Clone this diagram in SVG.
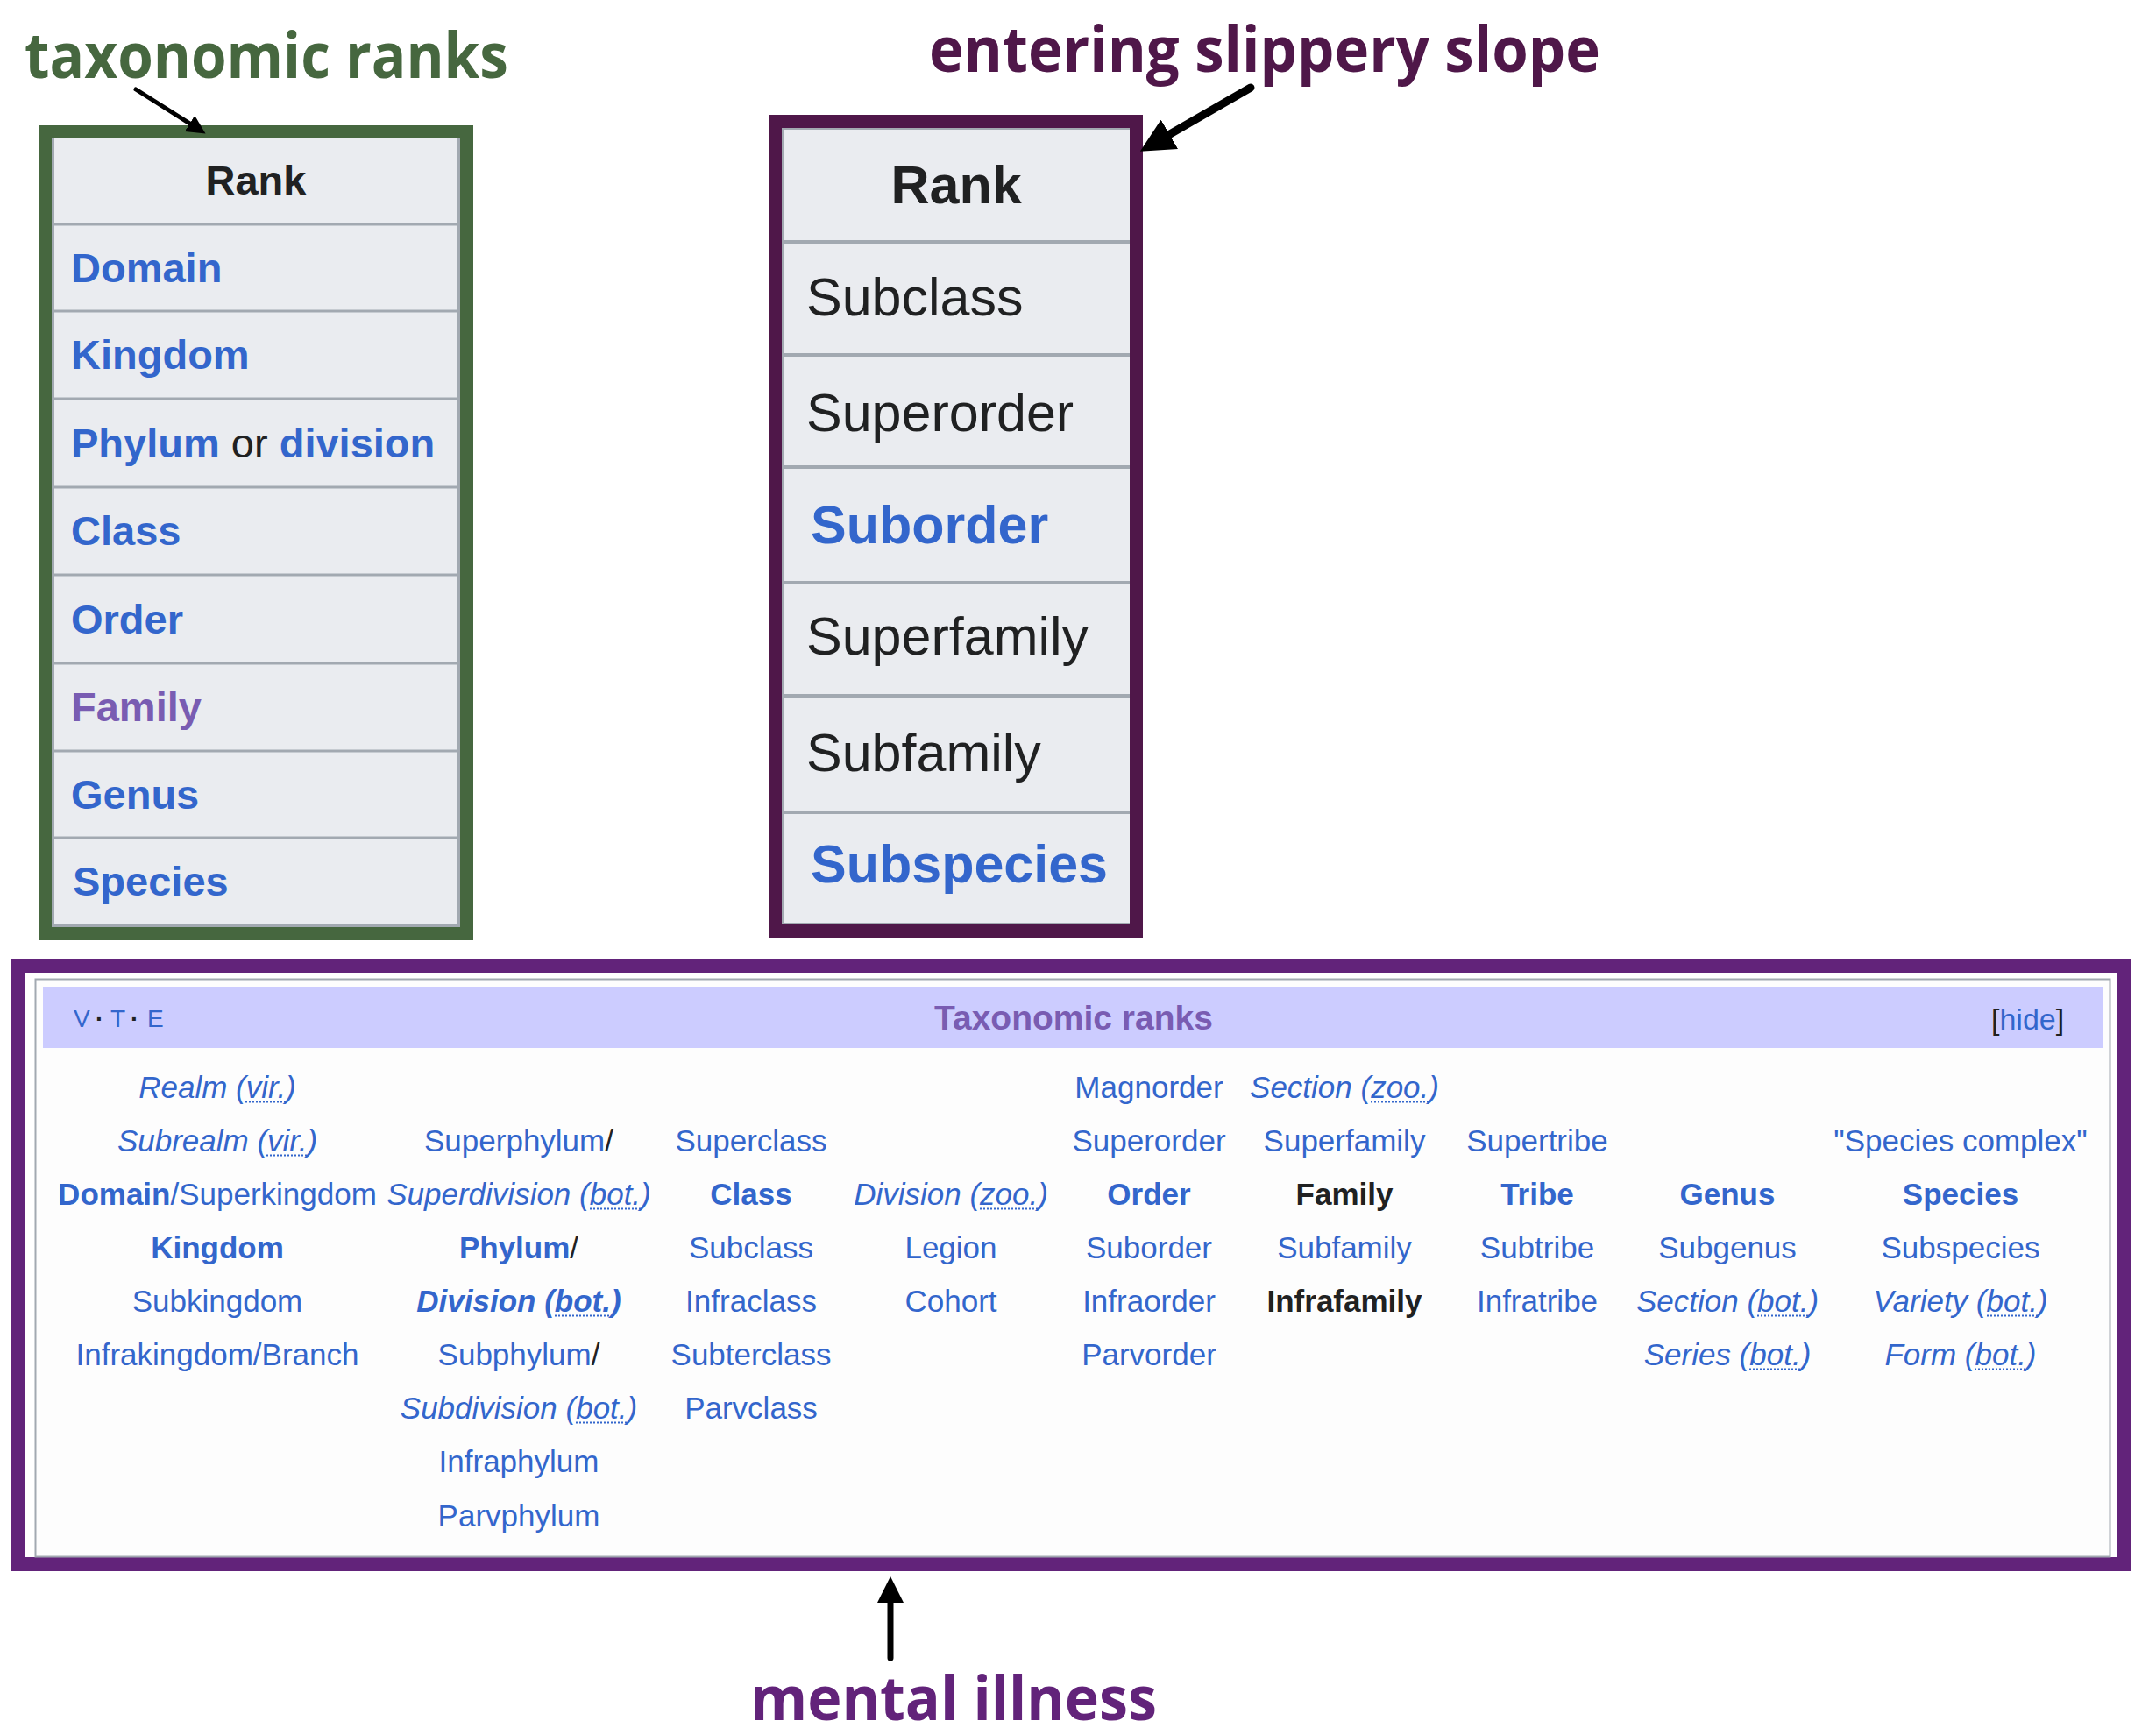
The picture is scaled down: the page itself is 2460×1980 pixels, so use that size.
<svg xmlns="http://www.w3.org/2000/svg" width="2460" height="1980" viewBox="0 0 2460 1980">
<style>
.ann{font-family:"Open Sans","Noto Sans",sans-serif;font-weight:bold}
.t{font-family:"Liberation Sans",Arial,sans-serif}
.tl{font-size:47px;fill:#3366cc;font-weight:bold}
.tm{font-size:61px;fill:#202122}
.nb{font-family:"Liberation Sans",Arial,sans-serif;font-size:35px;fill:#3366cc;text-anchor:middle}
.b{font-weight:bold}
.i{font-style:italic}
.k{fill:#202122}
.v{fill:#795cb2}
.dot{stroke:#3366cc;stroke-width:2;stroke-dasharray:2 2}
.sepL{stroke:#a2a9b1;stroke-width:3}
.sepM{stroke:#a2a9b1;stroke-width:4}
.arr{stroke:#000;fill:none;stroke-linecap:round}
</style>
<defs>
<marker id="head" viewBox="0 0 4 4" refX="2" refY="2" markerWidth="4.3" markerHeight="4.3" orient="auto" markerUnits="strokeWidth">
<path d="M0,0 L4,2 L0,4 z" fill="#000"/>
</marker>
</defs>
<rect width="2460" height="1980" fill="#ffffff"/>

<g id="label-taxonomic-ranks">
<text class="ann" x="28" y="89" font-size="72" fill="#46673f" textLength="552" lengthAdjust="spacingAndGlyphs">taxonomic ranks</text>
</g>
<g id="label-entering">
<text class="ann" x="1060" y="82" font-size="72" fill="#4f1749" textLength="766" lengthAdjust="spacingAndGlyphs">entering slippery slope</text>
</g>
<g id="label-mental">
<text class="ann" x="856" y="1963" font-size="70" fill="#62237a" textLength="464" lengthAdjust="spacingAndGlyphs">mental illness</text>
</g>

<g id="table-taxonomic-ranks">
<rect x="44" y="143" width="496" height="930" fill="#46673f"/>
<rect x="59" y="158" width="466" height="900" fill="#a2a9b1"/>
<rect x="62" y="158" width="460" height="897" fill="#eaecf0"/>
<line class="sepL" x1="62" y1="256" x2="522" y2="256"/>
<line class="sepL" x1="62" y1="355" x2="522" y2="355"/>
<line class="sepL" x1="62" y1="455" x2="522" y2="455"/>
<line class="sepL" x1="62" y1="556" x2="522" y2="556"/>
<line class="sepL" x1="62" y1="656" x2="522" y2="656"/>
<line class="sepL" x1="62" y1="757" x2="522" y2="757"/>
<line class="sepL" x1="62" y1="857" x2="522" y2="857"/>
<line class="sepL" x1="62" y1="956" x2="522" y2="956"/>
<text class="t" x="292" y="222" font-size="47" font-weight="bold" fill="#202122" text-anchor="middle">Rank</text>
<text class="t tl" x="81" y="322">Domain</text>
<text class="t tl" x="81" y="421">Kingdom</text>
<text class="t tl" x="81" y="522">Phylum<tspan class="k" font-weight="normal"> or </tspan>division</text>
<text class="t tl" x="81" y="622">Class</text>
<text class="t tl" x="81" y="723">Order</text>
<text class="t tl v" x="81" y="823">Family</text>
<text class="t tl" x="81" y="923">Genus</text>
<text class="t tl" x="83" y="1022">Species</text>
</g>

<g id="table-slippery-slope">
<rect x="877" y="131" width="427" height="939" fill="#4f1749"/>
<rect x="892" y="146" width="397" height="909" fill="#a2a9b1"/>
<rect x="894" y="148" width="395" height="905" fill="#eaecf0"/>
<line x1="894" y1="276.5" x2="1289" y2="276.5" stroke="#a2a9b1" stroke-width="5"/>
<line class="sepM" x1="894" y1="405" x2="1289" y2="405"/>
<line class="sepM" x1="894" y1="533" x2="1289" y2="533"/>
<line class="sepM" x1="894" y1="665" x2="1289" y2="665"/>
<line class="sepM" x1="894" y1="794" x2="1289" y2="794"/>
<line class="sepM" x1="894" y1="927" x2="1289" y2="927"/>
<text class="t" x="1091" y="232" font-size="61" font-weight="bold" fill="#202122" text-anchor="middle">Rank</text>
<text class="t tm" x="920" y="360">Subclass</text>
<text class="t tm" x="920" y="492">Superorder</text>
<text class="t tm b" x="925" y="620" style="fill:#3366cc">Suborder</text>
<text class="t tm" x="920" y="747">Superfamily</text>
<text class="t tm" x="920" y="880">Subfamily</text>
<text class="t tm b" x="925" y="1007" style="fill:#3366cc">Subspecies</text>
</g>

<g id="navbox-taxonomic-ranks">
<rect x="21" y="1102" width="2403" height="683" fill="none" stroke="#62237a" stroke-width="16"/>
<rect x="29" y="1110" width="2387" height="667" fill="#ffffff"/>
<rect x="40.5" y="1117.5" width="2367" height="659" fill="#fdfdfd" stroke="#a2a9b1" stroke-width="2"/>
<rect x="49" y="1126" width="2350" height="70" fill="#ccccff"/>
<text class="t" y="1172" font-size="28" fill="#3366cc"><tspan x="84">V</tspan><tspan x="109" fill="#202122" font-weight="bold">·</tspan><tspan x="126">T</tspan><tspan x="149" fill="#202122" font-weight="bold">·</tspan><tspan x="168">E</tspan></text>
<text class="t b v" x="1225" y="1175" font-size="39" text-anchor="middle">Taxonomic ranks</text>
<text class="t" x="2272" y="1175" font-size="34" fill="#202122">[<tspan fill="#3366cc">hide</tspan>]</text>

<text class="nb i" x="248" y="1253">Realm (vir.)</text>
<text class="nb" x="1311" y="1253">Magnorder</text>
<text class="nb i" x="1534" y="1253">Section (zoo.)</text>

<text class="nb i" x="248" y="1314">Subrealm (vir.)</text>
<text class="nb" x="592" y="1314">Superphylum<tspan class="k">/</tspan></text>
<text class="nb" x="857" y="1314">Superclass</text>
<text class="nb" x="1311" y="1314">Superorder</text>
<text class="nb" x="1534" y="1314">Superfamily</text>
<text class="nb" x="1754" y="1314">Supertribe</text>
<text class="nb" x="2237" y="1314">"Species complex"</text>

<text class="nb" x="248" y="1375"><tspan class="b">Domain</tspan>/Superkingdom</text>
<text class="nb i" x="592" y="1375">Superdivision (bot.)</text>
<text class="nb b" x="857" y="1375">Class</text>
<text class="nb i" x="1085" y="1375">Division (zoo.)</text>
<text class="nb b" x="1311" y="1375">Order</text>
<text class="nb b k" x="1534" y="1375">Family</text>
<text class="nb b" x="1754" y="1375">Tribe</text>
<text class="nb b" x="1971" y="1375">Genus</text>
<text class="nb b" x="2237" y="1375">Species</text>

<text class="nb b" x="248" y="1436">Kingdom</text>
<text class="nb" x="592" y="1436"><tspan class="b">Phylum</tspan><tspan class="k">/</tspan></text>
<text class="nb" x="857" y="1436">Subclass</text>
<text class="nb" x="1085" y="1436">Legion</text>
<text class="nb" x="1311" y="1436">Suborder</text>
<text class="nb" x="1534" y="1436">Subfamily</text>
<text class="nb" x="1754" y="1436">Subtribe</text>
<text class="nb" x="1971" y="1436">Subgenus</text>
<text class="nb" x="2237" y="1436">Subspecies</text>

<text class="nb" x="248" y="1497">Subkingdom</text>
<text class="nb b i" x="592" y="1497">Division (bot.)</text>
<text class="nb" x="857" y="1497">Infraclass</text>
<text class="nb" x="1085" y="1497">Cohort</text>
<text class="nb" x="1311" y="1497">Infraorder</text>
<text class="nb b k" x="1534" y="1497">Infrafamily</text>
<text class="nb" x="1754" y="1497">Infratribe</text>
<text class="nb i" x="1971" y="1497">Section (bot.)</text>
<text class="nb i" x="2237" y="1497">Variety (bot.)</text>

<text class="nb" x="248" y="1558">Infrakingdom/Branch</text>
<text class="nb" x="592" y="1558">Subphylum<tspan class="k">/</tspan></text>
<text class="nb" x="857" y="1558">Subterclass</text>
<text class="nb" x="1311" y="1558">Parvorder</text>
<text class="nb i" x="1971" y="1558">Series (bot.)</text>
<text class="nb i" x="2237" y="1558">Form (bot.)</text>

<text class="nb i" x="592" y="1619">Subdivision (bot.)</text>
<text class="nb" x="857" y="1619">Parvclass</text>

<text class="nb" x="592" y="1680">Infraphylum</text>
<text class="nb" x="592" y="1742">Parvphylum</text>

<g id="abbr-underlines">
<line class="dot" x1="280" y1="1257.5" x2="327" y2="1257.5"/>
<line class="dot" x1="304" y1="1318.5" x2="351" y2="1318.5"/>
<line class="dot" x1="1564" y1="1257.5" x2="1630" y2="1257.5"/>
<line class="dot" x1="673" y1="1379.5" x2="731" y2="1379.5"/>
<line class="dot" x1="1118" y1="1379.5" x2="1184" y2="1379.5"/>
<line class="dot" x1="633" y1="1501.5" x2="697" y2="1501.5"/>
<line class="dot" x1="2005" y1="1501.5" x2="2063" y2="1501.5"/>
<line class="dot" x1="2267" y1="1501.5" x2="2325" y2="1501.5"/>
<line class="dot" x1="1996" y1="1562.5" x2="2055" y2="1562.5"/>
<line class="dot" x1="2253" y1="1562.5" x2="2312" y2="1562.5"/>
<line class="dot" x1="657" y1="1623.5" x2="715" y2="1623.5"/>
</g>
</g>

<g id="connectors">
<line class="arr" x1="155" y1="102" x2="225.5" y2="146.7" stroke-width="5" marker-end="url(#head)"/>
<line class="arr" x1="1427" y1="100" x2="1317.6" y2="163" stroke-width="9" marker-end="url(#head)"/>
<line class="arr" x1="1016" y1="1892" x2="1016" y2="1814" stroke-width="7" marker-end="url(#head)"/>
</g>
</svg>
